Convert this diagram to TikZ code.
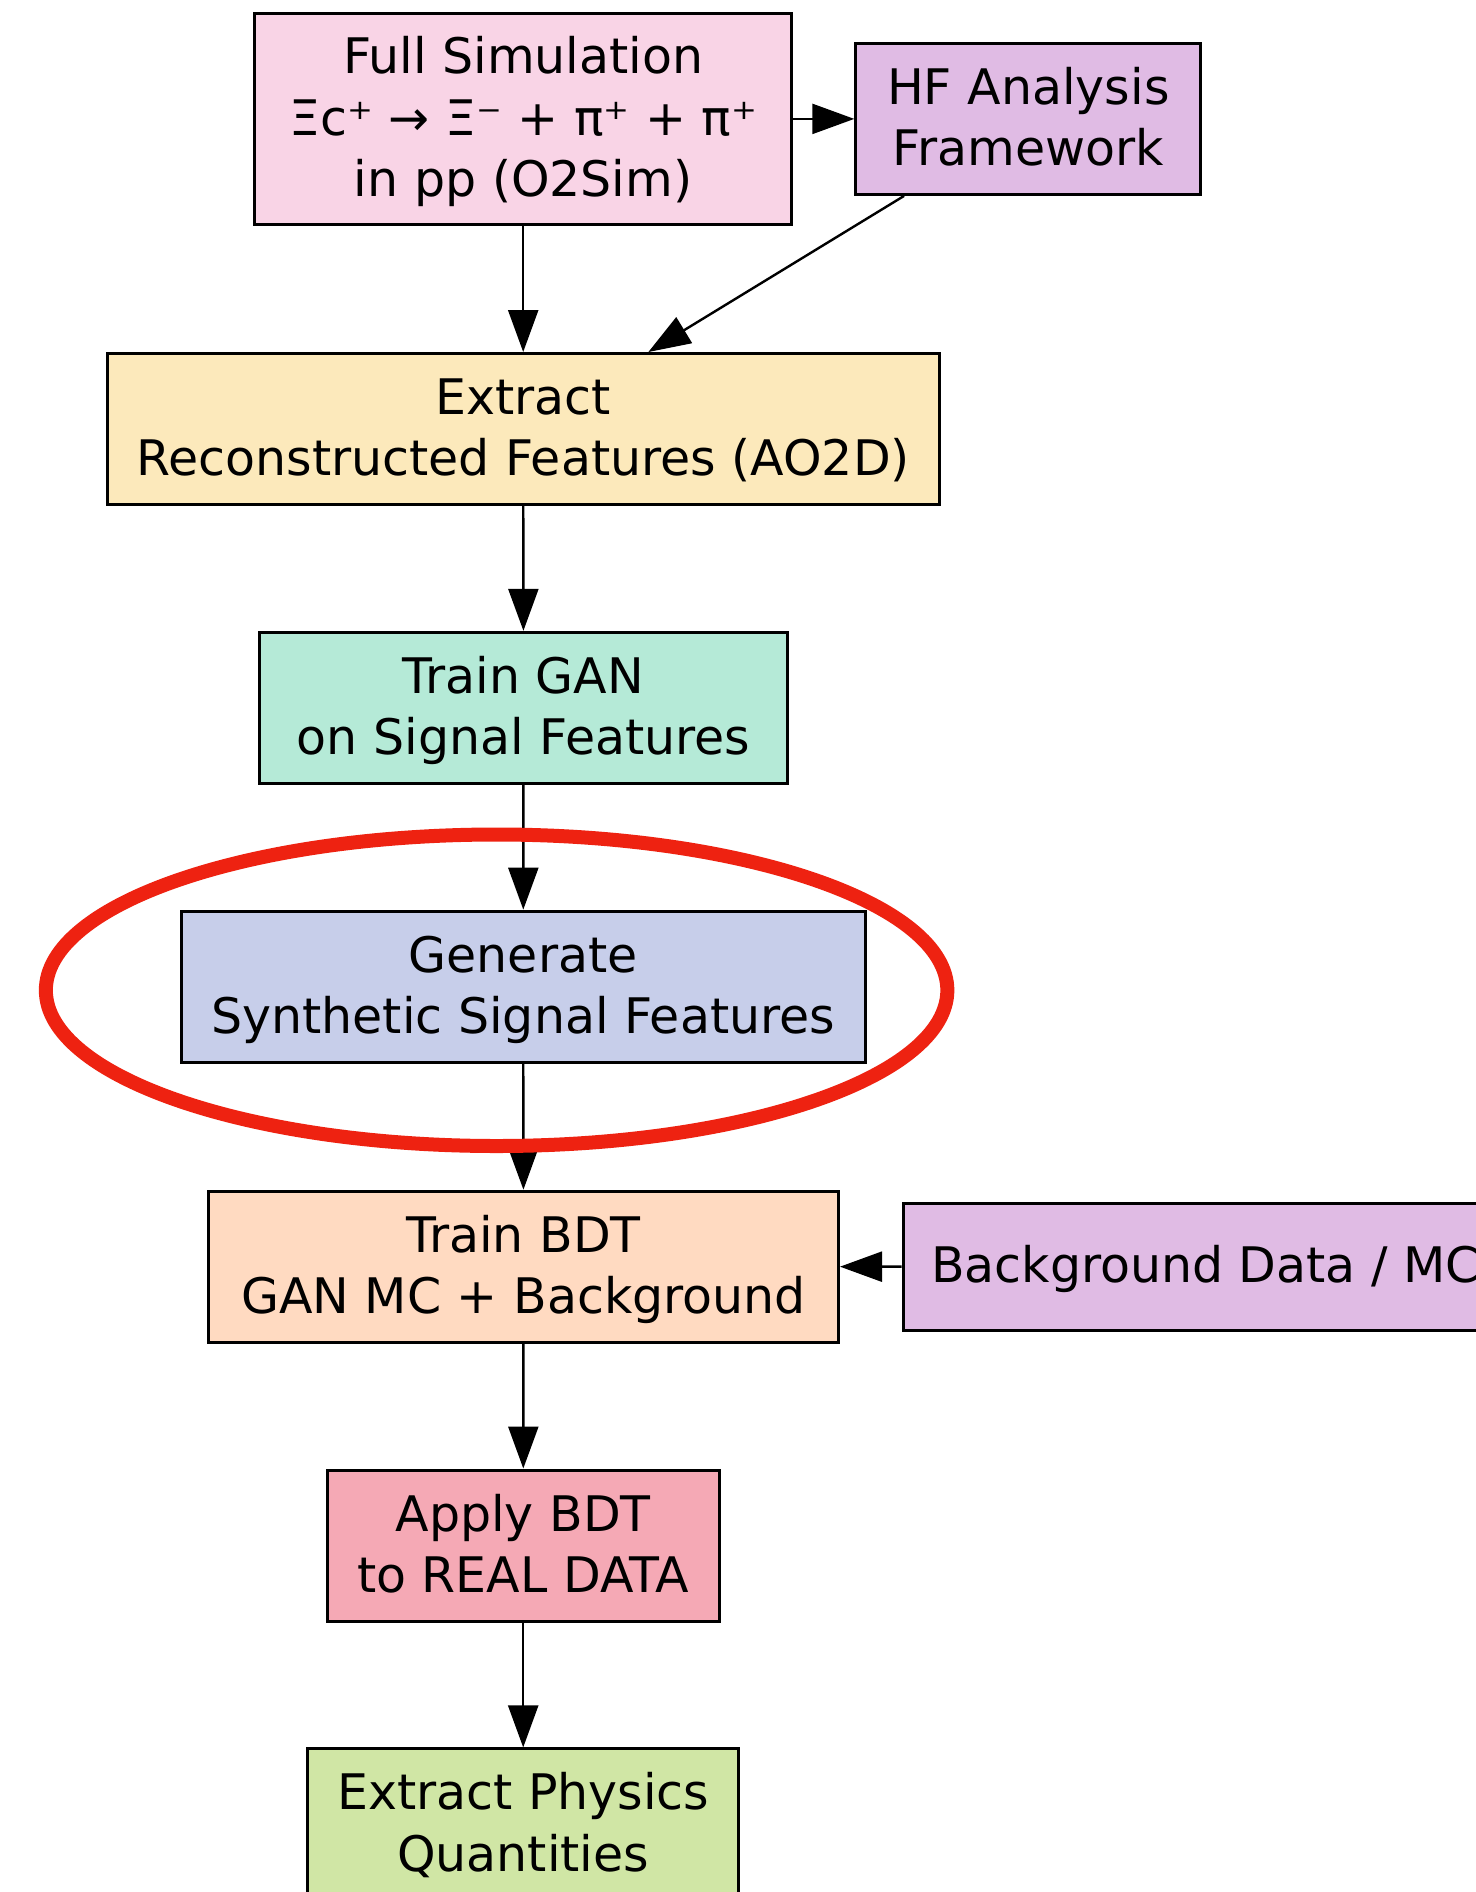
\documentclass[tikz,border=0pt]{standalone}
\usepackage{fontspec}
\setmainfont{DejaVu Sans}
\usetikzlibrary{arrows.meta,calc}
\definecolor{cSim}{HTML}{F9D4E6}
\definecolor{cLav}{HTML}{E0BBE4}
\definecolor{cExt}{HTML}{FCE9BB}
\definecolor{cGan}{HTML}{B5EAD7}
\definecolor{cGen}{HTML}{C7CEEA}
\definecolor{cBdt}{HTML}{FFDAC1}
\definecolor{cApp}{HTML}{F5A9B5}
\definecolor{cPhy}{HTML}{D0E6A5}
\definecolor{cRing}{RGB}{238,34,17}
% fixed struts so every label sits at the same height in its box
\newcommand\topstrut{\rule{0pt}{22.5pt}}
\newcommand\botstrut{\rule[-6.3pt]{0pt}{6.3pt}}
\tikzset{
  box/.style={draw=black, line width=1.5pt, align=center, inner sep=0pt,
    font=\fontsize{24.5pt}{30.7pt}\selectfont},
  flow/.style={line width=1.2pt, -{Triangle[length=21pt,width=15pt]}},
}
\begin{document}
\begin{tikzpicture}[x=0.5pt,y=-0.5pt]
\useasboundingbox (0,0) rectangle (1476,1892);
\clip (0,0) rectangle (1476,1892);
\fill[white] (0,0) rectangle (1476,1892);

% process steps
\node[box, fill=cSim, minimum width=268.5pt, minimum height=105.5pt] (sim) at (523.2,118.9)
  {\topstrut Full Simulation\\Ξc⁺ → Ξ⁻ + π⁺ + π⁺\\in pp (O2Sim)\botstrut};
\node[box, fill=cLav, minimum width=172.5pt, minimum height=75.5pt] (hf) at (1028.3,118.9)
  {\topstrut HF Analysis\\Framework\botstrut};
\node[box, fill=cExt, minimum width=415.8pt, minimum height=75.5pt] (ext) at (523.2,429)
  {\topstrut Extract\\Reconstructed Features (AO2D)\botstrut};
\node[box, fill=cGan, minimum width=264.3pt, minimum height=75.5pt] (gan) at (523.5,707.8)
  {\topstrut Train GAN\\on Signal Features\botstrut};
\node[box, fill=cGen, minimum width=342.2pt, minimum height=75.5pt] (gen) at (523.2,986.6)
  {\topstrut Generate\\Synthetic Signal Features\botstrut};
\node[box, fill=cBdt, minimum width=315pt, minimum height=75.5pt] (bdt) at (523.5,1266.7)
  {\topstrut Train BDT\\GAN MC + Background\botstrut};
\node[box, fill=cLav, minimum width=302.5pt, minimum height=63.4pt, anchor=west] (bkg) at (901.6,1266.6)
  {\topstrut Background Data / MC\botstrut};
\node[box, fill=cApp, minimum width=196pt, minimum height=75.5pt] (app) at (523.2,1545.5)
  {\topstrut Apply BDT\\to REAL DATA\botstrut};
\node[box, fill=cPhy, minimum width=215.5pt, minimum height=75.5pt] (phy) at (523.2,1824.4)
  {\topstrut Extract Physics\\Quantities\botstrut};

% connectors
\draw[flow] (sim) -- (ext);
\draw[flow] (sim.east |- hf.west) -- (hf.west);
\draw[flow] ($(hf.south west)!0.143!(hf.south east)$) -- ($(ext.north west)!0.65!(ext.north east)$);
\draw[flow] (ext) -- (gan);
\draw[flow] (gan) -- (gen);
\draw[flow] (gen) -- (bdt);
\draw[flow] (bkg) -- (bdt);
\draw[flow] (bdt) -- (app);
\draw[flow] (app) -- (phy);

% highlight ring
\draw[cRing, line width=7pt] (496.6,990.25) ellipse [x radius=450.75, y radius=155.75];
\end{tikzpicture}
\end{document}
